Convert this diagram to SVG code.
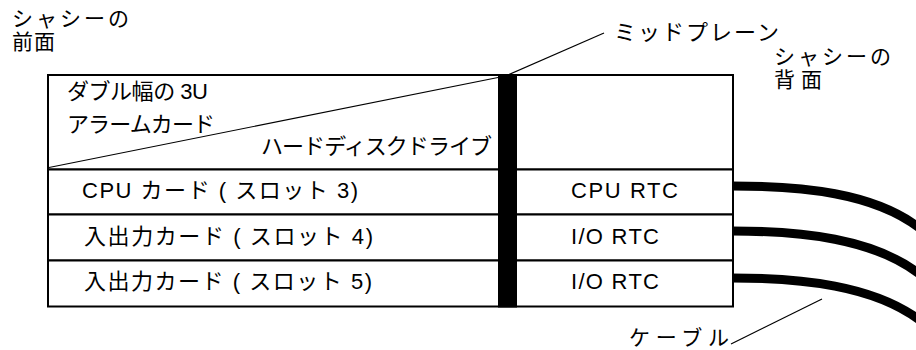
<svg xmlns="http://www.w3.org/2000/svg" width="916" height="350" viewBox="0 0 916 350">
<style>
text{font-family:"Liberation Sans","Noto Sans CJK JP",sans-serif;font-size:22px;fill:#000}
.lbl{font-size:21px}
.box{fill:#fff;stroke:#000;stroke-width:2}
.thin{fill:none;stroke:#000;stroke-width:1.2}
.cable{fill:none;stroke:#000;stroke-width:9}
</style>
<rect width="916" height="350" fill="#fff"/>
<g id="chassis-front-label">
<text class="lbl" x="12" y="26" textLength="117" lengthAdjust="spacing">シャシーの</text>
<text class="lbl" x="12" y="49" textLength="43" lengthAdjust="spacing">前面</text>
</g>
<g id="chassis-back-label">
<text class="lbl" x="774" y="64" textLength="117" lengthAdjust="spacing">シャシーの</text>
<text class="lbl" x="774" y="87" textLength="48" lengthAdjust="spacing">背面</text>
</g>
<g id="top-section">
<rect class="box" x="48" y="75" width="685" height="94.5"/>
<line class="thin" x1="49" y1="167.5" x2="508" y2="75.5"/>
<text x="67" y="99" textLength="141" lengthAdjust="spacing">ダブル幅の 3U</text>
<text x="67" y="132" textLength="148" lengthAdjust="spacing">アラームカード</text>
<text x="261" y="154" textLength="231" lengthAdjust="spacing">ハードディスクドライブ</text>
</g>
<g id="slot3">
<rect class="box" x="48" y="169.5" width="685" height="45"/>
<text x="82" y="198" textLength="276" lengthAdjust="spacing">CPU カード ( スロット 3)</text>
<text x="571" y="198" textLength="107" lengthAdjust="spacing">CPU RTC</text>
</g>
<g id="slot4">
<rect class="box" x="48" y="214.5" width="685" height="46"/>
<text x="84" y="244" textLength="289" lengthAdjust="spacing">入出力カード ( スロット 4)</text>
<text x="571" y="244" textLength="88" lengthAdjust="spacing">I/O RTC</text>
</g>
<g id="slot5">
<rect class="box" x="48" y="260.5" width="685" height="46"/>
<text x="84" y="289" textLength="288" lengthAdjust="spacing">入出力カード ( スロット 5)</text>
<text x="571" y="289" textLength="88" lengthAdjust="spacing">I/O RTC</text>
</g>
<g id="midplane">
<rect x="498" y="74" width="19" height="233.5" fill="#000"/>
</g>
<g id="midplane-label">
<text x="614" y="40" textLength="165" lengthAdjust="spacing">ミッドプレーン</text>
</g>
<g id="cable-label">
<text class="lbl" x="629" y="345" textLength="100" lengthAdjust="spacing">ケーブル</text>
</g>
<g id="connectors">
<line class="thin" x1="508" y1="75" x2="604" y2="33"/>
<line class="thin" x1="731" y1="344" x2="822" y2="299"/>
<path class="cable" d="M732,186 C800,186 875,192 922,230"/>
<path class="cable" d="M732,231 C800,231 875,238 922,276"/>
<path class="cable" d="M732,278 C800,278 875,285 922,322"/>
</g>
</svg>
